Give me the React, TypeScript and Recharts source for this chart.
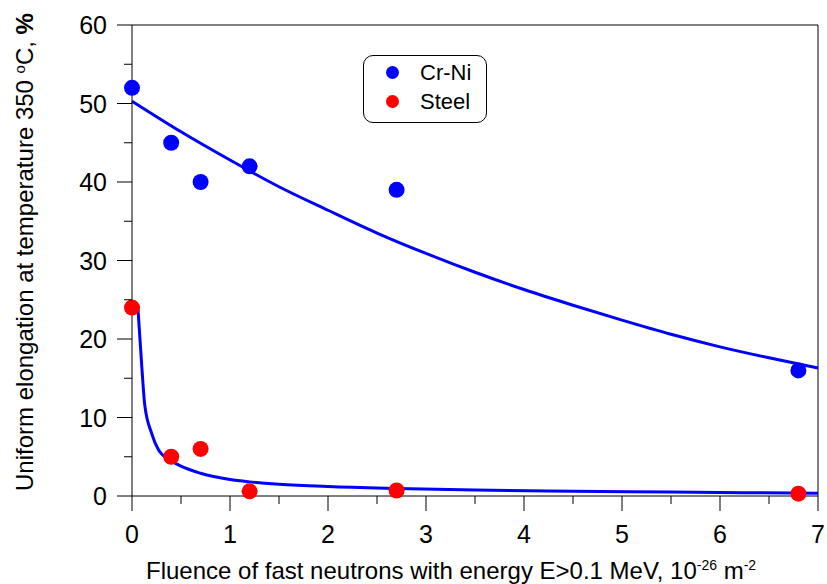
import React from 'react';
import { ComposedChart, Scatter, Line, XAxis, YAxis, ReferenceLine, Legend, Label } from 'recharts';

// measured points
const fluence = [0, 0.4, 0.7, 1.2, 2.7, 6.8];
const crNiElongation = [52, 45, 40, 42, 39, 16];
const steelElongation = [24, 5, 6, 0.6, 0.7, 0.3];

// fitted curves
const crNiFitFluence = [0, 0.5, 1, 1.5, 2, 2.5, 3, 3.5, 4, 4.5, 5, 5.5, 6, 6.5, 7];
const crNiFitElongation = [50.3, 46.4, 42.8, 39.4, 36.4, 33.5, 30.9, 28.5, 26.3, 24.3, 22.4, 20.6, 19.0, 17.6, 16.3];
const steelFitFluence = [0.06, 0.1, 0.13, 0.2, 0.27, 0.4, 0.5, 0.7, 1, 1.2, 1.5, 2, 2.7, 3.5, 4.5, 5.5, 7];
const steelFitElongation = [24, 16.5, 11.6, 8, 5.9, 4.5, 3.8, 2.9, 2.1, 1.8, 1.5, 1.2, 0.95, 0.75, 0.6, 0.5, 0.35];

const xTicks = [0, 0.5, 1, 1.5, 2, 2.5, 3, 3.5, 4, 4.5, 5, 5.5, 6, 6.5, 7];
const yTicks = [0, 5, 10, 15, 20, 25, 30, 35, 40, 45, 50, 55, 60];

const FONT = '"Liberation Sans", Arial, sans-serif';
const BLUE = '#0000ff';
const RED = '#ff0000';

const toPoints = (xs: number[], ys: number[]) => xs.map((x, i) => ({ x, y: ys[i] }));

const XTick = (props: any) => {
  const { x, y, payload } = props;
  const major = Number.isInteger(payload.value);
  return (
    <g>
      <line x1={x} x2={x} y1={y} y2={y + (major ? 15 : 8)} stroke="#000" />
      {major && (
        <text x={x} y={y + 47} textAnchor="middle" fontSize={25} fontFamily={FONT} fill="#000">
          {payload.value}
        </text>
      )}
    </g>
  );
};

const YTick = (props: any) => {
  const { x, y, payload } = props;
  const major = payload.value % 10 === 0;
  return (
    <g>
      <line x1={x - (major ? 15 : 8)} x2={x} y1={y} y2={y} stroke="#000" />
      {major && (
        <text x={x - 25} y={y + 9} textAnchor="end" fontSize={25} fontFamily={FONT} fill="#000">
          {payload.value}
        </text>
      )}
    </g>
  );
};

const Dot = (props: any) => <circle cx={props.cx} cy={props.cy} r={8} fill={props.fill} />;

const LegendBox = () => (
  <div
    style={{
      position: 'relative',
      width: 124,
      height: 68,
      border: '1px solid #000',
      borderRadius: 10,
      boxSizing: 'border-box',
      background: '#fff',
      fontFamily: FONT,
      fontSize: 22,
      color: '#000',
    }}
  >
    {[
      { name: 'Cr-Ni', color: BLUE, top: 17 },
      { name: 'Steel', color: RED, top: 46 },
    ].map((r) => (
      <React.Fragment key={r.name}>
        <span
          style={{
            position: 'absolute',
            left: 22,
            top: r.top - 7,
            width: 13,
            height: 13,
            borderRadius: '50%',
            background: r.color,
          }}
        />
        <span style={{ position: 'absolute', left: 56, top: r.top - 13, lineHeight: '26px' }}>{r.name}</span>
      </React.Fragment>
    ))}
  </div>
);

export default function App() {
  return (
    <div style={{ position: 'absolute', left: 0, top: 0, background: '#fff' }}>
      <ComposedChart width={827} height={584} margin={{ top: 25, right: 9, bottom: 0, left: 0 }}>
        <XAxis
          type="number"
          dataKey="x"
          domain={[0, 7]}
          ticks={xTicks}
          interval={0}
          tickSize={0}
          tickMargin={0}
          tickLine={false}
          tick={<XTick />}
          height={88}
          axisLine={{ stroke: '#000' }}
        >
          <Label
            content={() => (
              <text x={146} y={579} fontSize={24} fontFamily={FONT} fill="#000">
                Fluence of fast neutrons with energy E&gt;0.1 MeV, 10
                <tspan dy={-9} fontSize={14}>-26</tspan>
                <tspan dy={9}> m</tspan>
                <tspan dy={-9} fontSize={14}>-2</tspan>
              </text>
            )}
          />
        </XAxis>
        <YAxis
          type="number"
          dataKey="y"
          domain={[0, 60]}
          ticks={yTicks}
          interval={0}
          tickSize={0}
          tickMargin={0}
          tickLine={false}
          tick={<YTick />}
          width={132}
          axisLine={{ stroke: '#000' }}
        >
          <Label
            content={() => (
              <text
                x={33}
                y={252}
                transform="rotate(-90, 33, 252)"
                textAnchor="middle"
                fontSize={24}
                fontFamily={FONT}
                fill="#000"
              >
                Uniform elongation at temperature 350{' '}
                <tspan dy={-8} fontSize={15}>o</tspan>
                <tspan dy={8}>C, </tspan>
                <tspan fontWeight="bold">%</tspan>
              </text>
            )}
          />
        </YAxis>
        <ReferenceLine y={60} stroke="#000" />
        <ReferenceLine x={7} stroke="#000" />
        <Legend
          layout="horizontal"
          verticalAlign="middle"
          align="center"
          content={<LegendBox />}
          wrapperStyle={{ left: 363, top: 55, width: 124, height: 68 }}
        />
        <Scatter
          name="Cr-Ni"
          data={toPoints(fluence, crNiElongation)}
          fill={BLUE}
          shape={<Dot />}
          isAnimationActive={false}
        />
        <Scatter
          name="Steel"
          data={toPoints(fluence, steelElongation)}
          fill={RED}
          shape={<Dot />}
          isAnimationActive={false}
        />
        <Line
          data={toPoints(crNiFitFluence, crNiFitElongation)}
          dataKey="y"
          type="monotone"
          stroke={BLUE}
          strokeWidth={3}
          dot={false}
          activeDot={false}
          legendType="none"
          isAnimationActive={false}
        />
        <Line
          data={toPoints(steelFitFluence, steelFitElongation)}
          dataKey="y"
          type="monotone"
          stroke={BLUE}
          strokeWidth={3}
          dot={false}
          activeDot={false}
          legendType="none"
          isAnimationActive={false}
        />
      </ComposedChart>
    </div>
  );
}
